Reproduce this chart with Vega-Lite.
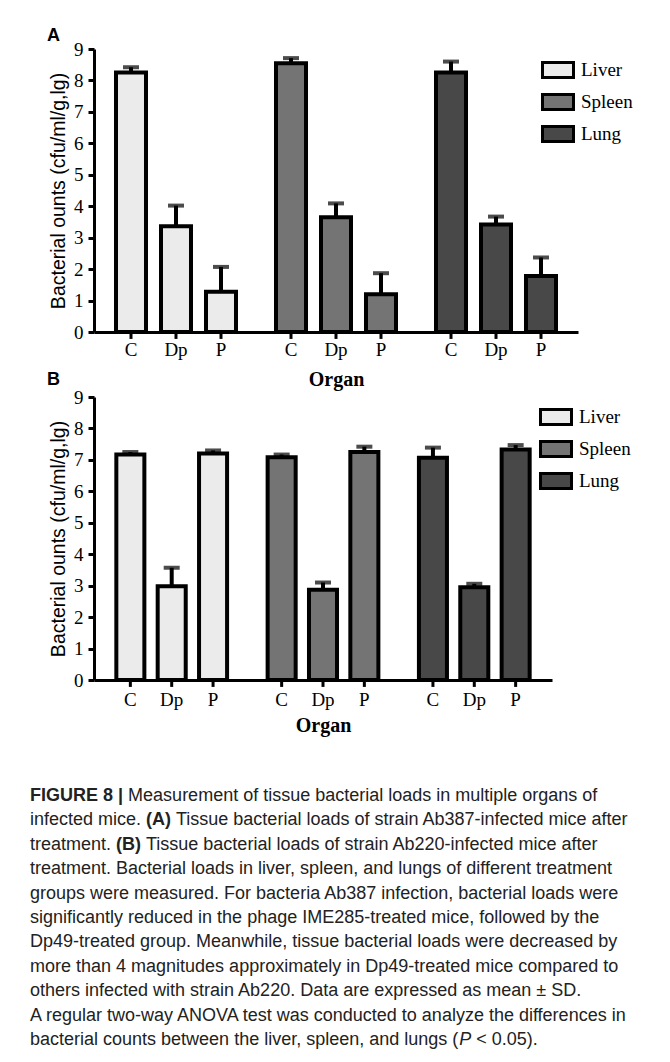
{
  "$schema": "https://vega.github.io/schema/vega-lite/v6.json",
  "background": "white",
  "padding": {"left": 30, "top": 27, "right": 0, "bottom": 0},
  "bounds": "flush",
  "spacing": 65,
  "resolve": {
    "scale": {"x": "independent", "y": "independent", "xOffset": "independent", "fill": "independent"},
    "legend": {"fill": "independent"}
  },
  "config": {
    "view": {"stroke": null},
    "axisY": {
      "domainColor": "black", "domainWidth": 3, "tickColor": "black", "tickWidth": 3, "tickSize": 6,
      "labelFont": "Liberation Serif", "labelFontSize": 19, "labelColor": "black", "labelPadding": 5, "labelOverlap": false,
      "titleFont": "Liberation Sans", "titleFontSize": 19.5, "titleFontWeight": "normal", "titleColor": "black",
      "titlePadding": 5, "grid": false
    },
    "axisX": {
      "domainColor": "black", "domainWidth": 3, "labels": false, "ticks": false, "grid": false,
      "titleFont": "Liberation Serif", "titleFontSize": 20, "titleFontWeight": "bold", "titleColor": "black"
    },
    "legend": {
      "title": null, "orient": "none", "padding": 0,
      "symbolType": "M-1,-0.484H1V0.484H-1Z", "symbolSize": 961,
      "symbolStrokeColor": "black", "symbolStrokeWidth": 3,
      "labelFont": "Liberation Serif", "labelFontSize": 19, "labelColor": "black", "labelOffset": 6,
      "rowPadding": 1
    },
    "title": {"font": "Liberation Sans", "fontSize": 18, "fontWeight": "bold", "color": "black", "anchor": "start", "frame": "group", "baseline": "alphabetic"}
  },
  "vconcat": [
    {
      "width": 484, "height": 283,
      "title": {"text": "A", "dx": -47, "offset": -5},
      "data": {"values": [
        {"organ": "Liver", "treatment": "C", "mean": 8.25, "upper": 8.42},
        {"organ": "Liver", "treatment": "Dp", "mean": 3.36, "upper": 4.02},
        {"organ": "Liver", "treatment": "P", "mean": 1.28, "upper": 2.07},
        {"organ": "Spleen", "treatment": "C", "mean": 8.55, "upper": 8.71},
        {"organ": "Spleen", "treatment": "Dp", "mean": 3.65, "upper": 4.09},
        {"organ": "Spleen", "treatment": "P", "mean": 1.2, "upper": 1.87},
        {"organ": "Lung", "treatment": "C", "mean": 8.25, "upper": 8.6},
        {"organ": "Lung", "treatment": "Dp", "mean": 3.42, "upper": 3.67},
        {"organ": "Lung", "treatment": "P", "mean": 1.78, "upper": 2.37}
      ]},
      "encoding": {
        "x": {"field": "organ", "type": "nominal", "sort": ["Liver", "Spleen", "Lung"],
              "scale": {"paddingInner": 0.15625, "paddingOuter": 0.0906},
              "axis": {"title": "Organ", "titlePadding": 37}},
        "xOffset": {"field": "treatment", "type": "nominal", "sort": ["C", "Dp", "P"],
                    "scale": {"paddingInner": 0.3333, "paddingOuter": 0.1667}}
      },
      "layer": [
        {"mark": {"type": "bar", "stroke": "black", "strokeWidth": 4},
         "encoding": {
           "y": {"field": "mean", "type": "quantitative", "scale": {"domain": [0, 9], "nice": false},
                 "axis": {"title": "Bacterial ounts (cfu/ml/g,lg)", "values": [0, 1, 2, 3, 4, 5, 6, 7, 8, 9]}},
           "fill": {"field": "organ", "type": "nominal",
                    "scale": {"domain": ["Liver", "Spleen", "Lung"], "range": ["#ebebeb", "#747474", "#484848"]},
                    "legend": {"legendX": 447, "legendY": 4}}
         }},
        {"mark": {"type": "rule", "color": "black", "strokeWidth": 4},
         "encoding": {"y": {"field": "mean", "type": "quantitative", "scale": {"domain": [0, 9], "nice": false},
                            "axis": {"title": "Bacterial ounts (cfu/ml/g,lg)", "values": [0, 1, 2, 3, 4, 5, 6, 7, 8, 9]}}, "y2": {"field": "upper"}}},
        {"mark": {"type": "tick", "color": "black", "thickness": 4, "size": 16},
         "encoding": {"y": {"field": "upper", "type": "quantitative", "scale": {"domain": [0, 9], "nice": false},
                            "axis": {"title": "Bacterial ounts (cfu/ml/g,lg)", "values": [0, 1, 2, 3, 4, 5, 6, 7, 8, 9]}}}},
        {"mark": {"type": "rule", "color": "black", "strokeWidth": 3},
         "encoding": {"y": {"datum": 0, "type": "quantitative", "scale": {"domain": [0, 9], "nice": false},
                            "axis": {"title": "Bacterial ounts (cfu/ml/g,lg)", "values": [0, 1, 2, 3, 4, 5, 6, 7, 8, 9]}}, "y2": {"datum": -0.22}}},
        {"mark": {"type": "text", "font": "Liberation Serif", "fontSize": 19, "color": "black", "baseline": "alphabetic", "dy": 24},
         "encoding": {"y": {"datum": 0, "type": "quantitative", "scale": {"domain": [0, 9], "nice": false},
                            "axis": {"title": "Bacterial ounts (cfu/ml/g,lg)", "values": [0, 1, 2, 3, 4, 5, 6, 7, 8, 9]}}, "text": {"field": "treatment"}}}
      ]
    },
    {
      "width": 458, "height": 283,
      "title": {"text": "B", "dx": -47, "offset": -1},
      "data": {"values": [
        {"organ": "Liver", "treatment": "C", "mean": 7.17, "upper": 7.25},
        {"organ": "Liver", "treatment": "Dp", "mean": 2.98, "upper": 3.57},
        {"organ": "Liver", "treatment": "P", "mean": 7.2, "upper": 7.3},
        {"organ": "Spleen", "treatment": "C", "mean": 7.08, "upper": 7.17},
        {"organ": "Spleen", "treatment": "Dp", "mean": 2.87, "upper": 3.1},
        {"organ": "Spleen", "treatment": "P", "mean": 7.25, "upper": 7.42},
        {"organ": "Lung", "treatment": "C", "mean": 7.07, "upper": 7.39},
        {"organ": "Lung", "treatment": "Dp", "mean": 2.95, "upper": 3.06},
        {"organ": "Lung", "treatment": "P", "mean": 7.33, "upper": 7.47}
      ]},
      "encoding": {
        "x": {"field": "organ", "type": "nominal", "sort": ["Liver", "Spleen", "Lung"],
              "scale": {"paddingInner": 0.18, "paddingOuter": 0.1036},
              "axis": {"title": "Organ", "titlePadding": 35}},
        "xOffset": {"field": "treatment", "type": "nominal", "sort": ["C", "Dp", "P"],
                    "scale": {"paddingInner": 0.322, "paddingOuter": 0.161}}
      },
      "layer": [
        {"mark": {"type": "bar", "stroke": "black", "strokeWidth": 4},
         "encoding": {
           "y": {"field": "mean", "type": "quantitative", "scale": {"domain": [0, 9], "nice": false},
                 "axis": {"title": "Bacterial ounts (cfu/ml/g,lg)", "values": [0, 1, 2, 3, 4, 5, 6, 7, 8, 9]}},
           "fill": {"field": "organ", "type": "nominal",
                    "scale": {"domain": ["Liver", "Spleen", "Lung"], "range": ["#ebebeb", "#747474", "#484848"]},
                    "legend": {"legendX": 445, "legendY": 3}}
         }},
        {"mark": {"type": "rule", "color": "black", "strokeWidth": 4},
         "encoding": {"y": {"field": "mean", "type": "quantitative", "scale": {"domain": [0, 9], "nice": false},
                            "axis": {"title": "Bacterial ounts (cfu/ml/g,lg)", "values": [0, 1, 2, 3, 4, 5, 6, 7, 8, 9]}}, "y2": {"field": "upper"}}},
        {"mark": {"type": "tick", "color": "black", "thickness": 4, "size": 16},
         "encoding": {"y": {"field": "upper", "type": "quantitative", "scale": {"domain": [0, 9], "nice": false},
                            "axis": {"title": "Bacterial ounts (cfu/ml/g,lg)", "values": [0, 1, 2, 3, 4, 5, 6, 7, 8, 9]}}}},
        {"mark": {"type": "rule", "color": "black", "strokeWidth": 3},
         "encoding": {"y": {"datum": 0, "type": "quantitative", "scale": {"domain": [0, 9], "nice": false},
                            "axis": {"title": "Bacterial ounts (cfu/ml/g,lg)", "values": [0, 1, 2, 3, 4, 5, 6, 7, 8, 9]}}, "y2": {"datum": -0.22}}},
        {"mark": {"type": "text", "font": "Liberation Serif", "fontSize": 19, "color": "black", "baseline": "alphabetic", "dy": 26},
         "encoding": {"y": {"datum": 0, "type": "quantitative", "scale": {"domain": [0, 9], "nice": false},
                            "axis": {"title": "Bacterial ounts (cfu/ml/g,lg)", "values": [0, 1, 2, 3, 4, 5, 6, 7, 8, 9]}}, "text": {"field": "treatment"}}}
      ]
    },
    {
      "width": 484, "height": 341.6,
      "data": {"values": [
        {"line": 1, "p": "fig", "text": "FIGURE 8 |"},
        {"line": 1, "p": "l1r", "text": "Measurement of tissue bacterial loads in multiple organs of"},
        {"line": 2, "p": "a", "text": "infected mice."},
        {"line": 2, "p": "l2b", "text": "(A)"},
        {"line": 2, "p": "l2r", "text": "Tissue bacterial loads of strain Ab387-infected mice after"},
        {"line": 3, "p": "a", "text": "treatment."},
        {"line": 3, "p": "l3b", "text": "(B)"},
        {"line": 3, "p": "l3r", "text": "Tissue bacterial loads of strain Ab220-infected mice after"},
        {"line": 4, "p": "a", "text": "treatment. Bacterial loads in liver, spleen, and lungs of different treatment"},
        {"line": 5, "p": "a", "text": "groups were measured. For bacteria Ab387 infection, bacterial loads were"},
        {"line": 6, "p": "a", "text": "significantly reduced in the phage IME285-treated mice, followed by the"},
        {"line": 7, "p": "a", "text": "Dp49-treated group. Meanwhile, tissue bacterial loads were decreased by"},
        {"line": 8, "p": "a", "text": "more than 4 magnitudes approximately in Dp49-treated mice compared to"},
        {"line": 9, "p": "a", "text": "others infected with strain Ab220. Data are expressed as mean ± SD."},
        {"line": 10, "p": "a", "text": "A regular two-way ANOVA test was conducted to analyze the differences in"},
        {"line": 11, "p": "a", "text": "bacterial counts between the liver, spleen, and lungs ("},
        {"line": 11, "p": "l11i", "text": "P"},
        {"line": 11, "p": "l11r", "text": "< 0.05)."}
      ]},
      "encoding": {
        "x": {"datum": 0, "type": "quantitative", "scale": {"domain": [0, 1]}, "axis": null},
        "y": {"field": "line", "type": "quantitative", "scale": {"domain": [-1.09, 12.91], "reverse": true, "nice": false, "zero": false}, "axis": null},
        "text": {"field": "text"}
      },
      "layer": [
        {"transform": [{"filter": "datum.p == 'a'"}],
         "mark": {"type": "text", "align": "left", "baseline": "middle", "font": "Liberation Sans", "fontSize": 18, "color": "#222", "dx": -64}},
        {"transform": [{"filter": "datum.p == 'fig'"}],
         "mark": {"type": "text", "align": "left", "baseline": "middle", "font": "Liberation Sans", "fontSize": 18, "fontWeight": "bold", "color": "#222", "dx": -64}},
        {"transform": [{"filter": "datum.p == 'l1r'"}],
         "mark": {"type": "text", "align": "left", "baseline": "middle", "font": "Liberation Sans", "fontSize": 18, "color": "#222", "dx": 34.1}},
        {"transform": [{"filter": "datum.p == 'l2b'"}],
         "mark": {"type": "text", "align": "left", "baseline": "middle", "font": "Liberation Sans", "fontSize": 18, "fontWeight": "bold", "color": "#222", "dx": 52}},
        {"transform": [{"filter": "datum.p == 'l2r'"}],
         "mark": {"type": "text", "align": "left", "baseline": "middle", "font": "Liberation Sans", "fontSize": 18, "color": "#222", "dx": 82}},
        {"transform": [{"filter": "datum.p == 'l3b'"}],
         "mark": {"type": "text", "align": "left", "baseline": "middle", "font": "Liberation Sans", "fontSize": 18, "fontWeight": "bold", "color": "#222", "dx": 22}},
        {"transform": [{"filter": "datum.p == 'l3r'"}],
         "mark": {"type": "text", "align": "left", "baseline": "middle", "font": "Liberation Sans", "fontSize": 18, "color": "#222", "dx": 52}},
        {"transform": [{"filter": "datum.p == 'l11i'"}],
         "mark": {"type": "text", "align": "left", "baseline": "middle", "font": "Liberation Sans", "fontSize": 18, "fontStyle": "italic", "color": "#222", "dx": 365.2}},
        {"transform": [{"filter": "datum.p == 'l11r'"}],
         "mark": {"type": "text", "align": "left", "baseline": "middle", "font": "Liberation Sans", "fontSize": 18, "color": "#222", "dx": 382.2}}
      ]
    }
  ]
}
